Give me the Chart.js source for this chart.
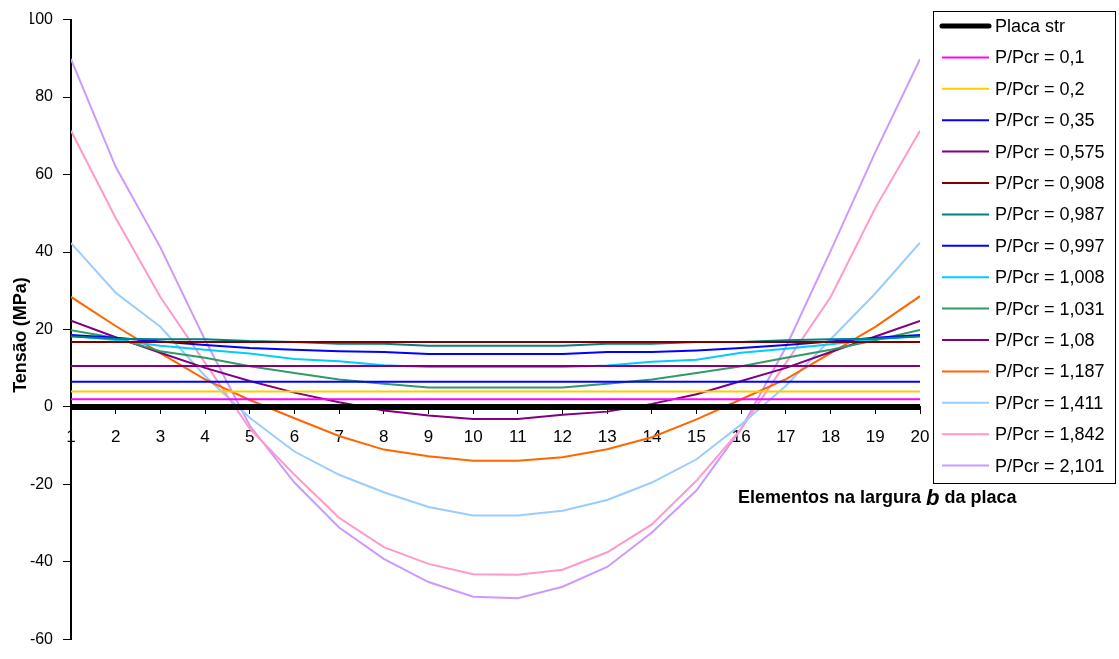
<!DOCTYPE html>
<html>
<head>
<meta charset="utf-8">
<script src="https://cdn.jsdelivr.net/npm/chart.js@4.4.1/dist/chart.umd.min.js"></script>
<style>
  html, body { margin: 0; padding: 0; background: #fff; }
</style>
</head>
<body>
<canvas id="chart" width="1119" height="659"></canvas>
<script>
// elementos ao longo da largura b
const elementos = [1, 2, 3, 4, 5, 6, 7, 8, 9, 10, 11, 12, 13, 14, 15, 16, 17, 18, 19, 20];

const legendas = ["Placa str", "P/Pcr = 0,1", "P/Pcr = 0,2", "P/Pcr = 0,35", "P/Pcr = 0,575",
    "P/Pcr = 0,908", "P/Pcr = 0,987", "P/Pcr = 0,997", "P/Pcr = 1,008", "P/Pcr = 1,031",
    "P/Pcr = 1,08", "P/Pcr = 1,187", "P/Pcr = 1,411", "P/Pcr = 1,842", "P/Pcr = 2,101"];

const cores = ["#000000", "#FF00FF", "#FFCC00", "#0000FF", "#800080", "#800000", "#008080",
    "#0000FF", "#00CCFF", "#339966", "#800080", "#FF6600", "#99CCFF", "#FF99CC", "#CC99FF"];

// tensões (MPa)
const placaStr = [0, 0, 0, 0, 0, 0, 0, 0, 0, 0, 0, 0, 0, 0, 0, 0, 0, 0, 0, 0];
const p0100 = [2, 2, 2, 2, 2, 2, 2, 2, 2, 2, 2, 2, 2, 2, 2, 2, 2, 2, 2, 2];
const p0200 = [4, 4, 4, 4, 4, 4, 4, 4, 4, 4, 4, 4, 4, 4, 4, 4, 4, 4, 4, 4];
const p0350 = [6.5, 6.5, 6.5, 6.5, 6.5, 6.5, 6.5, 6.5, 6.5, 6.5, 6.5, 6.5, 6.5, 6.5, 6.5, 6.5, 6.5, 6.5, 6.5, 6.5];
const p0575 = [10.6, 10.6, 10.6, 10.6, 10.6, 10.6, 10.6, 10.6, 10.6, 10.6, 10.6, 10.6, 10.6, 10.6, 10.6, 10.6, 10.6, 10.6, 10.6, 10.6];
const p0908 = [16.8, 16.8, 16.8, 16.8, 16.8, 16.8, 16.8, 16.8, 16.8, 16.8, 16.8, 16.8, 16.8, 16.8, 16.8, 16.8, 16.8, 16.8, 16.8, 16.8];
const p0987 = [18.2, 17.6, 17.5, 17.5, 17.0, 16.8, 16.3, 16.3, 15.8, 15.8, 15.8, 15.8, 16.3, 16.3, 16.8, 16.8, 17.2, 17.5, 17.6, 18.2];
const p0997 = [18.6, 17.9, 16.9, 16.0, 15.2, 14.8, 14.4, 14.2, 13.7, 13.7, 13.7, 13.7, 14.2, 14.2, 14.6, 15.2, 16.0, 16.9, 17.9, 18.6];
const p1008 = [18.4, 17.3, 15.8, 14.8, 13.8, 12.4, 11.8, 10.8, 10.3, 10.3, 10.3, 10.3, 10.7, 11.7, 12.2, 14.0, 15.0, 16.2, 17.5, 18.4];
const p1031 = [19.8, 17.8, 14.4, 12.7, 10.5, 8.8, 7.1, 6.0, 5.0, 5.0, 5.0, 5.0, 6.0, 7.1, 8.8, 10.5, 12.7, 14.8, 17.2, 19.9];
const p1080 = [22.3, 18.0, 14.0, 10.1, 6.7, 3.7, 1.2, -0.9, -2.2, -3.1, -3.1, -2.0, -1.2, 0.8, 3.3, 6.7, 10.1, 14.2, 18.2, 22.2];
const p1187 = [28.4, 20.9, 13.9, 7.1, 1.8, -2.9, -7.5, -11.0, -12.7, -13.9, -13.9, -13.0, -10.9, -7.8, -3.2, 2.0, 7.2, 13.9, 20.7, 28.6];
const p1411 = [42.3, 29.5, 20.7, 8.0, -2.8, -11.5, -17.5, -22.0, -25.8, -28.0, -28.0, -26.8, -24.0, -19.5, -13.5, -4.5, 5.5, 17.5, 29.3, 42.4];
const p1842 = [71.3, 48.8, 28.4, 11.4, -5.6, -17.5, -28.6, -36.2, -40.5, -43.2, -43.3, -42.0, -37.5, -30.3, -19.0, -5.6, 11.4, 28.4, 51.4, 71.3];
const p2101 = [89.8, 62.0, 41.2, 17.3, -4.8, -19.5, -31.1, -39.2, -45.2, -49.0, -49.4, -46.4, -41.3, -32.4, -21.5, -5.6, 15.5, 40.3, 65.8, 89.8];

const yTicks = [-60, -40, -20, 0, 20, 40, 60, 80, 100];

const valores = [placaStr, p0100, p0200, p0350, p0575, p0908, p0987, p0997, p1008, p1031, p1080, p1187, p1411, p1842, p2101];

const FONT = "'Liberation Sans', Arial, sans-serif";
Chart.defaults.font.family = FONT;
Chart.defaults.font.size = 16;
Chart.defaults.color = "#000";

// legenda com moldura e títulos dos eixos
const extras = {
    id: "extras",
    afterDraw(chart) {
        const ctx = chart.ctx;
        ctx.save();

        // moldura da legenda
        ctx.strokeStyle = "#000";
        ctx.lineWidth = 1;
        ctx.strokeRect(933.5, 11.5, 182, 472);

        ctx.font = "18px " + FONT;
        ctx.textBaseline = "middle";
        ctx.fillStyle = "#000";
        chart.data.datasets.forEach((ds, i) => {
            const y = 26 + i * 31.4;
            ctx.beginPath();
            ctx.strokeStyle = ds.borderColor;
            ctx.lineWidth = i === 0 ? 5 : 2;
            ctx.lineCap = i === 0 ? "round" : "butt";
            ctx.moveTo(942, y);
            ctx.lineTo(989, y);
            ctx.stroke();
            ctx.fillText(ds.label, 995, y + 1);
        });

        // título do eixo y
        ctx.save();
        ctx.translate(21, 335);
        ctx.rotate(-Math.PI / 2);
        ctx.textAlign = "center";
        ctx.font = "bold 18px " + FONT;
        ctx.fillText("Tensão (MPa)", 0, 0);
        ctx.restore();

        // título do eixo x, com o "b" em itálico
        let x = 738;
        const y = 498;
        ctx.textAlign = "left";
        ctx.font = "bold 18px " + FONT;
        ctx.fillText("Elementos na largura ", x, y);
        x += ctx.measureText("Elementos na largura ").width;
        ctx.font = "italic bold 22px " + FONT;
        ctx.fillText("b", x, y + 1);
        x += ctx.measureText("b").width;
        ctx.font = "bold 18px " + FONT;
        ctx.fillText(" da placa", x, y);

        ctx.restore();
    }
};

new Chart(document.getElementById("chart").getContext("2d"), {
    type: "line",
    data: {
        datasets: legendas.map((nome, i) => ({
            label: nome,
            data: elementos.map((e, k) => ({ x: e, y: valores[i][k] })),
            borderColor: cores[i],
            backgroundColor: cores[i],
            borderWidth: i === 0 ? 6 : 2,
            pointRadius: 0,
            tension: 0,
            fill: false
        }))
    },
    options: {
        responsive: false,
        animation: false,
        devicePixelRatio: 1,
        layout: {
            padding: { left: 30, top: 16, bottom: 16, right: 199 }
        },
        plugins: {
            legend: { display: false },
            tooltip: { enabled: false }
        },
        scales: {
            x: {
                type: "linear",
                position: { y: 0 },
                min: 1,
                max: 20,
                ticks: {
                    stepSize: 1,
                    padding: 13,
                    maxRotation: 0,
                    font: { size: 17 }
                },
                grid: {
                    drawOnChartArea: false,
                    drawTicks: true,
                    tickLength: 7,
                    color: "#000"
                },
                border: { color: "#000", width: 1 }
            },
            y: {
                min: -60,
                max: 100,
                afterBuildTicks: s => { s.ticks = yTicks.map(v => ({ value: v })); },
                afterFit: s => { s.width = 41; },
                ticks: {
                    padding: 10,
                    font: { size: 16 }
                },
                grid: {
                    drawOnChartArea: false,
                    drawTicks: true,
                    tickLength: 8,
                    color: "#000"
                },
                border: { color: "#000", width: 2 }
            }
        }
    },
    plugins: [extras]
});
</script>
</body>
</html>
